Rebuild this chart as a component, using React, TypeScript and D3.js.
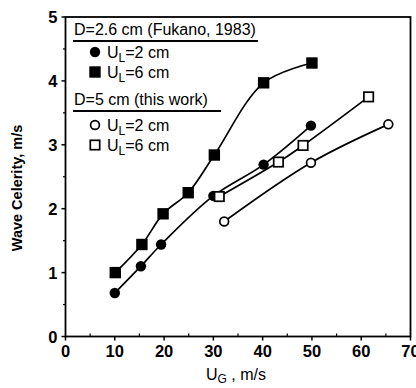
import React from "react";
import * as d3 from "d3";

const fukanoUL2X = [10, 15.3, 19.4, 30, 40.2, 49.8];
const fukanoUL2Y = [0.68, 1.1, 1.44, 2.2, 2.69, 3.3];
const fukanoUL6X = [10.1, 15.5, 19.8, 24.9, 30.2, 40.2, 50];
const fukanoUL6Y = [1.0, 1.44, 1.92, 2.25, 2.84, 3.97, 4.28];
const thisUL2X = [32.2, 49.8, 65.5];
const thisUL2Y = [1.8, 2.72, 3.32];
const thisUL6X = [31.2, 43.2, 48.2, 61.5];
const thisUL6Y = [2.19, 2.73, 2.99, 3.75];
const xTicks = [0, 10, 20, 30, 40, 50, 60, 70];
const yTicks = [0, 1, 2, 3, 4, 5];

const W = 416, H = 388;
const left = 65.5, right = 410.5, top = 17, bottom = 336.5;
const font = "'Liberation Sans', Arial, sans-serif";

export default function App() {
  const x = d3.scaleLinear().domain([0, 70]).range([left, right]);
  const y = d3.scaleLinear().domain([0, 5]).range([bottom, top]);
  const line = d3
    .line<[number, number]>()
    .x((d) => x(d[0]))
    .y((d) => y(d[1]))
    .curve(d3.curveCatmullRom.alpha(0.5));
  const zip = (a: number[], b: number[]) => a.map((v, i) => [v, b[i]] as [number, number]);
  const s1 = zip(fukanoUL2X, fukanoUL2Y);
  const s2 = zip(fukanoUL6X, fukanoUL6Y);
  const s3 = zip(thisUL2X, thisUL2Y);
  const s4 = zip(thisUL6X, thisUL6Y);
  const xMinor = d3.range(5, 70, 10);
  const yMinor = d3.range(0.5, 5, 1);

  const circleF = (cx: number, cy: number, k: string) => <circle key={k} cx={cx} cy={cy} r={5.2} fill="#000" />;
  const squareF = (cx: number, cy: number, k: string) => (
    <rect key={k} x={cx - 5.7} y={cy - 5.7} width={11.4} height={11.4} fill="#000" />
  );
  const circleO = (cx: number, cy: number, k: string) => (
    <circle key={k} cx={cx} cy={cy} r={4.4} fill="#fff" stroke="#000" strokeWidth={1.7} />
  );
  const squareO = (cx: number, cy: number, k: string) => (
    <rect key={k} x={cx - 4.7} y={cy - 4.7} width={9.4} height={9.4} fill="#fff" stroke="#000" strokeWidth={1.7} />
  );

  const ulLabel = (tx: number, ty: number, val: string) => (
    <text x={tx} y={ty} fontFamily={font} fontSize={16} fill="#000">
      U<tspan fontSize={12} dy={4}>L</tspan>
      <tspan dy={-4}>=</tspan>
      {val} cm
    </text>
  );

  return (
    <svg width={W} height={H} style={{ position: "absolute", left: 0, top: 0, background: "#fff" }}>
      <rect x={0} y={0} width={W} height={H} fill="#fff" />
      {/* frame */}
      <rect x={left} y={top} width={right - left} height={bottom - top} fill="none" stroke="#000" strokeWidth={1.8} />
      {/* ticks */}
      {xTicks.map((t) => (
        <g key={"xt" + t}>
          <line x1={x(t)} x2={x(t)} y1={bottom} y2={bottom + 4} stroke="#000" strokeWidth={1.5} />
          <text x={x(t)} y={bottom + 20.5} textAnchor="middle" fontFamily={font} fontWeight="bold" fontSize={16.5}>
            {t}
          </text>
        </g>
      ))}
      {xMinor.map((t) => (
        <line key={"xm" + t} x1={x(t)} x2={x(t)} y1={bottom} y2={bottom - 3} stroke="#000" strokeWidth={1.2} />
      ))}
      {yTicks.map((t) => (
        <g key={"yt" + t}>
          <line x1={left - 4} x2={left} y1={y(t)} y2={y(t)} stroke="#000" strokeWidth={1.5} />
          <text x={left - 8} y={y(t) + 6} textAnchor="end" fontFamily={font} fontWeight="bold" fontSize={16.5}>
            {t}
          </text>
        </g>
      ))}
      {yMinor.map((t) => (
        <line key={"ym" + t} x1={left - 2.5} x2={left} y1={y(t)} y2={y(t)} stroke="#000" strokeWidth={1.2} />
      ))}
      {/* axis labels */}
      <text
        transform={`translate(22,188) rotate(-90)`}
        textAnchor="middle"
        fontFamily={font}
        fontWeight="bold"
        fontSize={14.5}
      >
        Wave Celerity, m/s
      </text>
      <text x={(left + right) / 2 - 2} y={380} textAnchor="middle" fontFamily={font} fontSize={16}>
        U<tspan fontSize={12} dy={3}>G</tspan>
        <tspan dy={-3}> , m/s</tspan>
      </text>
      {/* lines */}
      {[s1, s2, s3, s4].map((s, i) => (
        <path key={"l" + i} d={line(s) || ""} fill="none" stroke="#000" strokeWidth={1.7} />
      ))}
      {s1.map((d, i) => circleF(x(d[0]), y(d[1]), "a" + i))}
      {s2.map((d, i) => squareF(x(d[0]), y(d[1]), "b" + i))}
      {s3.map((d, i) => circleO(x(d[0]), y(d[1]), "c" + i))}
      {s4.map((d, i) => squareO(x(d[0]), y(d[1]), "d" + i))}
      {/* legend */}
      <text x={74} y={35} fontFamily={font} fontSize={16} fill="#000">
        D=2.6 cm (Fukano, 1983)
      </text>
      <line x1={73} x2={258} y1={41} y2={41} stroke="#000" strokeWidth={2} />
      {circleF(95, 52, "la")}
      {ulLabel(107, 58, "2")}
      {squareF(95, 72, "lb")}
      {ulLabel(107, 78, "6")}
      <text x={74} y={105} fontFamily={font} fontSize={16} fill="#000">
        D=5 cm (this work)
      </text>
      <line x1={73} x2={221} y1={111} y2={111} stroke="#000" strokeWidth={2} />
      {circleO(95, 125, "lc")}
      {ulLabel(107, 131, "2")}
      {squareO(95, 145, "ld")}
      {ulLabel(107, 151, "6")}
    </svg>
  );
}
